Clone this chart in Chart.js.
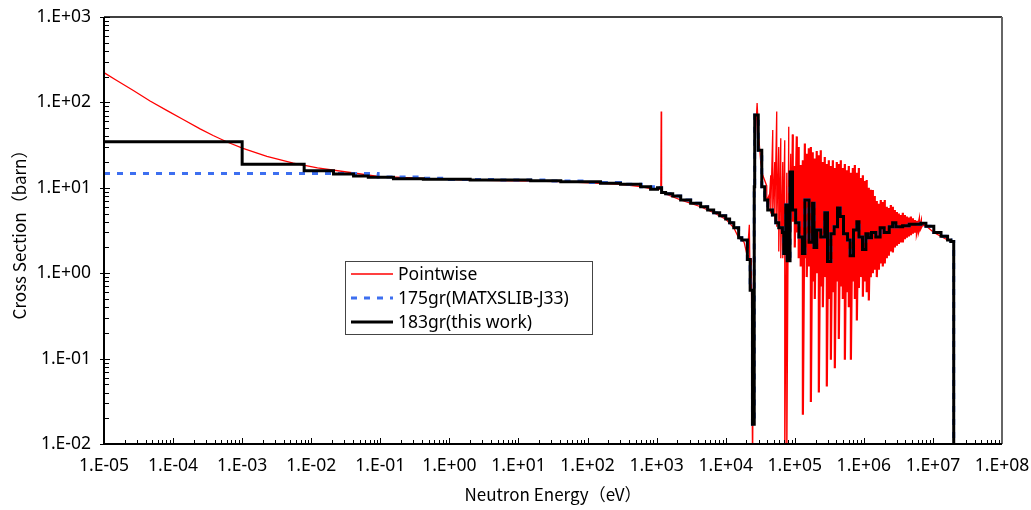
<!DOCTYPE html>
<html>
<head>
<meta charset="utf-8">
<script src="https://cdn.jsdelivr.net/npm/chart.js@4.4.0/dist/chart.umd.min.js"></script>
<style>
  html,body{margin:0;padding:0;background:#fff;}
  #wrap{width:1031px;height:510px;}
</style>
</head>
<body>
<div id="wrap"><canvas id="chart" width="1031" height="510"></canvas></div>
<script>
// axis ticks
const xTicks = [1e-5,1e-4,1e-3,1e-2,1e-1,1e0,1e1,1e2,1e3,1e4,1e5,1e6,1e7,1e8];
const xTickLabels = ['1.E-05','1.E-04','1.E-03','1.E-02','1.E-01','1.E+00','1.E+01','1.E+02','1.E+03','1.E+04','1.E+05','1.E+06','1.E+07','1.E+08'];
const yTicks = [1e-2,1e-1,1e0,1e1,1e2,1e3];
const yTickLabels = ['1.E-02','1.E-01','1.E+00','1.E+01','1.E+02','1.E+03'];

const seriesNames = ['Pointwise','175gr(MATXSLIB-J33)','183gr(this work)'];

// pointwise cross section (eV, barn); resonance forest as peak / valley pairs
const pwE = [
  1e-5,1.49e-5,2.66e-5,4.64e-5,8.2e-5,1.40e-4,2.46e-4,3.8e-4,6.05e-4,1.03e-3,2.28e-3,5.5e-3,0.0123,0.0367,0.093,0.52,
  2,15,41,154,300,586,818,1100,1150,1165,1180,1350,2230,4340,6700,10000,13100,15400,
  18500,20500,22000,22500,23500,24500,25500,26500,28500,30000,32200,34400,
  39300,39300,42000,42000,44900,44900,48000,48000,51300,51300,54800,54800,
  58600,58600,62700,62700,67000,67000,71600,71600,76600,76600,81800,81800,
  87500,87500,93500,93500,1.0e5,1.0e5,1.07e5,1.07e5,1.14e5,1.14e5,1.22e5,1.22e5,
  1.31e5,1.31e5,1.40e5,1.40e5,1.49e5,1.49e5,1.60e5,1.60e5,1.71e5,1.71e5,1.82e5,1.82e5,
  1.95e5,1.95e5,2.08e5,2.08e5,2.23e5,2.23e5,2.38e5,2.38e5,2.55e5,2.55e5,2.72e5,2.72e5,
  2.91e5,2.91e5,3.11e5,3.11e5,3.33e5,3.33e5,3.56e5,3.56e5,3.80e5,3.80e5,4.06e5,4.06e5,
  4.34e5,4.34e5,4.64e5,4.64e5,4.96e5,4.96e5,5.31e5,5.31e5,5.67e5,5.67e5,6.06e5,6.06e5,
  6.49e5,6.49e5,6.93e5,6.93e5,7.41e5,7.41e5,7.92e5,7.92e5,8.47e5,8.47e5,9.06e5,9.06e5,
  9.68e5,9.68e5,1.03e6,1.03e6,1.10e6,1.10e6,1.18e6,1.18e6,1.26e6,1.26e6,1.35e6,1.35e6,
  1.44e6,1.44e6,1.54e6,1.54e6,1.65e6,1.65e6,1.76e6,1.76e6,1.88e6,1.88e6,2.01e6,2.01e6,
  2.15e6,2.15e6,2.30e6,2.30e6,2.46e6,2.46e6,2.63e6,2.63e6,2.81e6,2.81e6,3.01e6,3.01e6,
  3.21e6,3.21e6,3.44e6,3.44e6,3.67e6,3.67e6,3.93e6,3.93e6,4.20e6,4.20e6,4.49e6,4.49e6,
  4.80e6,4.80e6,5.13e6,5.13e6,5.48e6,5.48e6,5.86e6,5.86e6,6.27e6,6.27e6,6.70e6,6.70e6,
  7.16e6,7.16e6,7.9e6,1.03e7,1.31e7,1.63e7,2.0e7
];
const pwXS = [
  223,183,138,104,80,63,48.9,41,34.4,28.9,23.4,19.5,17.1,15.1,13.6,12.8,
  12.3,12.0,11.8,11.3,11.0,10.3,9.8,9.6,9.6,78,9.2,8.5,7.2,6.0,5.1,4.3,3.4,2.6,
  2.3,1.6,3.7,0.84,1.5,0.005,2,30,98,40,20,14,
  10.5,7,8,5.5,14,5,47.5,5,20,4,78,3.5,
  30,1.8,38,1.5,20,1.5,36,0.005,15,0.005,52,2,
  25,3,42,4,18,2,40,3,30,1.5,18.5,1.2,
  21,0.022,33,1.5,25,0.9,29,1.2,30,0.031,26,0.8,
  22,0.5,27,1.0,24,0.04,27.6,0.7,20,0.4,23,0.9,
  19,0.047,21,0.5,18,0.097,21,0.6,17,0.077,20,0.8,
  19,0.17,21,0.7,17,0.5,19,0.097,16,0.6,18,0.4,
  15,0.097,17,0.8,18.5,0.5,15,0.28,17,0.67,13,0.9,
  14,0.53,12,0.8,12.3,0.6,10,0.48,9.5,0.9,9.4,1.0,
  8,1.1,7,0.9,6.5,1.1,7.2,1.3,6.8,1.2,7.2,1.3,
  6,1.5,5.8,1.6,6.3,1.8,6.0,1.75,5.5,2.0,5.2,2.1,
  5.0,2.2,4.8,2.3,5.1,2.3,4.8,2.5,4.6,2.6,4.5,2.7,
  4.6,2.8,4.4,2.9,4.2,3.0,4.1,3.1,4.0,3.2,3.9,3.4,
  3.8,3.6,3.6,3.0,2.7,2.45,2.32
];

// 183-group library: group lower bound (eV) and group value (barn)
const g183E = [
  1e-5,1e-3,7.9e-3,0.021,0.041,0.067,0.155,0.42,2,15,41,154,300,586,818,1030,1180,
  1350,1710,2230,3110,4340,5480,6700,8180,10000,11400,13100,15400,17100,20600,22600,
  24400,25900,26300,29600,33300,36700,40600,47500,53100,58600,66300,69300,74100,77700,
  85500,92700,1.03e5,1.15e5,1.29e5,1.40e5,1.61e5,1.81e5,1.90e5,2.08e5,2.38e5,2.72e5,
  2.98e5,3.33e5,3.72e5,4.16e5,4.54e5,5.08e5,5.81e5,6.33e5,7.09e5,7.92e5,8.50e5,9.57e5,
  1.07e6,1.16e6,1.29e6,1.49e6,1.72e6,1.97e6,2.33e6,2.61e6,2.91e6,3.64e6,4.54e6,6.70e6,
  7.92e6,1.03e7,1.31e7,1.63e7,1.82e7,2.0e7
];
const g183XS = [
  34.5,18.9,15.8,14.5,13.7,13.3,12.8,12.6,12.3,12.1,11.8,11.3,11.0,10.3,9.6,10.0,8.8,
  8.5,8.0,7.2,6.6,6.0,5.5,5.1,4.7,4.3,3.9,3.4,2.6,2.45,1.45,0.63,
  0.017,10.3,71,27.6,10.3,7.2,5.5,4.8,3.9,3.4,3.0,1.7,6.3,1.4,
  15.3,5.5,3.9,2.65,1.7,7.2,2.3,6.6,2.0,3.2,2.65,5.1,
  1.37,2.9,3.5,5.8,4.6,2.9,2.45,1.6,3.2,4.0,2.65,1.9,
  2.9,2.6,3.0,2.65,3.4,3.0,3.5,3.9,3.5,3.6,3.75,3.85,
  3.55,3.0,2.7,2.45,2.35,0.005
];

// 175-group library below 1 keV (flat thermal group); above that it lies under the 183-group curve
const g175LowE = [1e-5,0.093,0.4,1.0,5,30,100,300,600,900];
const g175LowXS = [14.7,13.4,12.9,12.5,12.3,12.0,11.5,11.0,10.3,9.6];

const g175E = g175LowE.concat(g183E.filter(e => e >= 1030));
const g175XS = g175LowXS.concat(g183XS.filter((v, i) => g183E[i] >= 1030));

const pts = (E, S) => E.map((e, i) => ({x: e, y: S[i]}));

const tickFont = {family: "'Noto Sans', 'DejaVu Sans', sans-serif", size: 17.5};
const titleFont = {family: "'Noto Sans CJK JP', 'Noto Sans', sans-serif", size: 17};

const frame = {
  id: 'frame',
  afterDatasetsDraw(chart) {
    const ctx = chart.ctx, a = chart.chartArea;
    const xs = chart.scales.x, ys = chart.scales.y;
    ctx.save();
    ctx.strokeStyle = '#000';
    // minor / major ticks, pointing into the plot
    ctx.lineWidth = 1;
    ctx.beginPath();
    for (let d = -5; d < 8; d++) {
      for (let k = 2; k <= 9; k++) {
        const px = Math.round(xs.getPixelForValue(k * Math.pow(10, d))) + 0.5;
        ctx.moveTo(px, a.bottom); ctx.lineTo(px, a.bottom - 4);
      }
    }
    for (let d = -2; d < 3; d++) {
      for (let k = 2; k <= 9; k++) {
        const py = Math.round(ys.getPixelForValue(k * Math.pow(10, d))) + 0.5;
        ctx.moveTo(a.left, py); ctx.lineTo(a.left + 5, py);
      }
    }
    xTicks.forEach(v => {
      const px = Math.round(xs.getPixelForValue(v)) + 0.5;
      ctx.moveTo(px, a.bottom); ctx.lineTo(px, a.bottom - 6);
    });
    yTicks.forEach(v => {
      const py = Math.round(ys.getPixelForValue(v)) + 0.5;
      ctx.moveTo(a.left - 4, py); ctx.lineTo(a.left + 6, py);
    });
    ctx.stroke();

    // top and right edges
    ctx.lineWidth = 1.5;
    ctx.beginPath();
    ctx.moveTo(a.left, a.top); ctx.lineTo(a.right, a.top);
    ctx.stroke();
    ctx.strokeStyle = '#666';
    ctx.lineWidth = 2;
    ctx.beginPath();
    ctx.moveTo(a.right, a.top); ctx.lineTo(a.right, a.bottom);
    ctx.stroke();
    // axes
    ctx.strokeStyle = '#000';
    ctx.lineWidth = 2;
    ctx.beginPath();
    ctx.moveTo(a.left, a.top); ctx.lineTo(a.left, a.bottom); ctx.lineTo(a.right, a.bottom);
    ctx.stroke();

    // legend box
    const lx = 345, ly = 261, lw = 247, lh = 73;
    ctx.fillStyle = '#fff';
    ctx.fillRect(lx, ly, lw, lh);
    ctx.strokeStyle = '#444';
    ctx.lineWidth = 1;
    ctx.strokeRect(lx + 0.5, ly + 0.5, lw, lh);
    const ds = chart.data.datasets;
    const rows = [274, 298, 322];
    ctx.font = "17.5px 'Noto Sans', 'DejaVu Sans', sans-serif";
    ctx.textBaseline = 'middle';
    ctx.fillStyle = '#000';
    rows.forEach((yy, i) => {
      const d = ds[i];
      ctx.strokeStyle = d.borderColor;
      ctx.lineWidth = i === 0 ? 1.3 : d.borderWidth;
      ctx.setLineDash(d.borderDash || []);
      ctx.beginPath();
      ctx.moveTo(351, yy); ctx.lineTo(393, yy);
      ctx.stroke();
      ctx.setLineDash([]);
      ctx.fillText(seriesNames[i], 398, yy + 1);
    });
    ctx.restore();
  }
};

new Chart(document.getElementById('chart'), {
  type: 'line',
  data: {
    datasets: [
      { label: seriesNames[0], data: pts(pwE, pwXS), borderColor: '#ff0000', borderWidth: 1.3,
        pointRadius: 0, tension: 0, order: 3,
        // the unresolved resonance forest prints as a dense band
        segment: { borderWidth: c => (c.p0.parsed.x > 9e4 && c.p0.parsed.x < 7e6) ? 2.2 : 1.3 } },
      { label: seriesNames[1], data: pts(g175E, g175XS), borderColor: '#3d6ff0', borderWidth: 3,
        borderDash: [6, 7], pointRadius: 0, stepped: 'before', order: 2 },
      { label: seriesNames[2], data: pts(g183E, g183XS), borderColor: '#000000', borderWidth: 3,
        pointRadius: 0, stepped: 'before', borderJoinStyle: 'miter', order: 1 }
    ]
  },
  options: {
    responsive: false,
    animation: false,
    devicePixelRatio: 1,
    layout: { padding: { left: 0, right: 29, top: 17, bottom: 0 } },
    plugins: { legend: { display: false }, tooltip: { enabled: false } },
    scales: {
      x: {
        type: 'logarithmic', min: 1e-5, max: 1e8,
        afterBuildTicks: s => { s.ticks = xTicks.map(v => ({value: v})); },
        afterFit: s => { s.height = 66; s.paddingLeft = 0; s.paddingRight = 0; },
        grid: { display: false, drawTicks: false },
        border: { display: false },
        ticks: { color: '#000', font: tickFont, padding: 12, autoSkip: false, maxRotation: 0,
                 callback: (v, i) => xTickLabels[i] },
        title: { display: true, text: 'Neutron Energy（eV）', color: '#000', font: titleFont,
                 padding: { top: 0, bottom: 5 } }
      },
      y: {
        type: 'logarithmic', min: 1e-2, max: 1e3,
        afterBuildTicks: s => { s.ticks = yTicks.map(v => ({value: v})); },
        afterFit: s => { s.width = 104; s.paddingTop = 0; s.paddingBottom = 0; },
        grid: { display: false, drawTicks: false },
        border: { display: false },
        ticks: { color: '#000', font: tickFont, padding: 13, autoSkip: false,
                 callback: (v, i) => yTickLabels[i] },
        title: { display: true, text: 'Cross Section（barn）', color: '#000', font: titleFont,
                 padding: { top: 9, bottom: 0 } }
      }
    }
  },
  plugins: [frame]
});
</script>
</body>
</html>
